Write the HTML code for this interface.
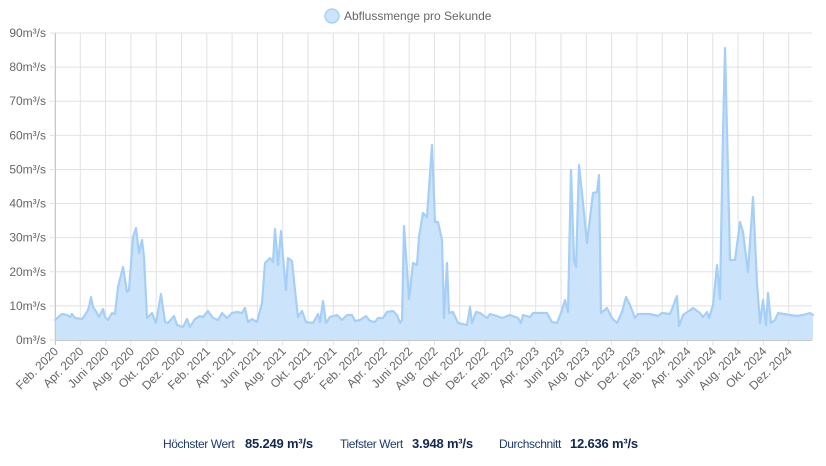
<!DOCTYPE html>
<html><head><meta charset="utf-8"><style>
body{margin:0;background:#fff;width:826px;height:466px;overflow:hidden;font-family:"Liberation Sans",sans-serif}
.f{position:absolute;top:437px;font-size:12px;color:#1d3b6e;white-space:nowrap;letter-spacing:-0.4px}
.v{position:absolute;top:436px;font-size:13px;font-weight:bold;color:#12284f;white-space:nowrap;letter-spacing:-0.2px}
</style></head><body>
<svg width="826" height="466" style="position:absolute;left:0;top:0" font-family="Liberation Sans, sans-serif">
<circle cx="332" cy="16" r="7" fill="#cce3fc" stroke="#a9d0f7" stroke-width="1.5"/>
<text x="344" y="20" font-size="12" fill="#666">Abflussmenge pro Sekunde</text>
<g id="grid" stroke="#e2e2e2" stroke-width="1"></g>
<g id="yl" font-size="12" fill="#666" text-anchor="end"></g>
<g id="xl" font-size="12" fill="#666" text-anchor="end"></g>
<path id="area" fill="#cce3fc" stroke="none"/>
<polyline id="line" fill="none" stroke="#a6cff7" stroke-width="2.2" stroke-linejoin="round" stroke-linecap="round"/>
<line x1="55" y1="340.5" x2="812" y2="340.5" stroke="#c8c8c8"/>
<line x1="55.5" y1="33" x2="55.5" y2="345" stroke="#c8c8c8"/>
</svg>
<div class="f" style="left:163px">Höchster Wert</div><div class="v" style="left:245px">85.249 m³/s</div>
<div class="f" style="left:340px">Tiefster Wert</div><div class="v" style="left:412px">3.948 m³/s</div>
<div class="f" style="left:499px">Durchschnitt</div><div class="v" style="left:570px">12.636 m³/s</div>
<script>
var ns="http://www.w3.org/2000/svg";
function el(t,a,p){var e=document.createElementNS(ns,t);for(var k in a)e.setAttribute(k,a[k]);document.getElementById(p).appendChild(e);return e;}
for(var i=0;i<=9;i++){var y=340-i*34.11;el('line',{x1:50,x2:812,y1:y,y2:y},'grid');var t=el('text',{x:46,y:y+4},'yl');t.textContent=(i*10)+'m³/s';}
var m=['Feb.','Apr.','Juni','Aug.','Okt.','Dez.'];
for(var i=0;i<30;i++){var x=55+i*25.3;el('line',{x1:x,x2:x,y1:33,y2:345},'grid');var t=el('text',{x:x+4,y:352,transform:'rotate(-45 '+(x+4)+' 352)'},'xl');t.textContent=m[i%6]+' '+(2020+Math.floor(i/6));}
var p="55,320 62,314 67,315 70,317 72,314 75,318 82,319 87,312 89,307 91,297 93,307 97,313 99,317 103,309 105,317 108,320 112,313 115,314 118,287 123,267 127,292 129,290 133,237 136,228 139,253 142,240 144,257 147,318 152,313 156,323 161,294 165,322 168,323 174,316 177,325 183,327 187,319 190,327 195,319 200,316 203,317 208,311 213,318 218,320 222,313 227,318 232,313 237,312 242,313 245,308 248,322 252,319 257,322 262,303 265,263 270,258 273,262 275,229 278,265 281,231 283,257 286,290 288,258 292,261 295,290 298,317 302,311 306,322 313,323 318,314 320,322 323,301 326,323 330,317 337,315 342,320 347,315 352,315 355,321 360,320 366,316 370,321 375,322 378,318 383,318 387,312 393,311 397,315 400,323 402,320 404,226 407,270 409,299 413,263 417,265 419,237 423,213 427,217 432,145 435,222 438,222 442,240 444,318 447,263 449,313 453,312 458,323 467,325 470,307 472,323 476,312 480,313 487,318 490,314 497,316 502,318 510,315 518,318 521,323 523,315 530,317 533,313 540,313 547,313 552,322 557,323 562,310 565,300 568,312 571,170 574,260 576,267 579,165 583,203 587,243 593,193 597,192 599,175 601,313 607,308 612,318 617,323 622,312 626,297 630,305 635,318 638,314 650,314 658,316 662,313 670,314 677,296 679,326 683,315 693,308 700,313 703,317 707,312 709,318 713,305 717,265 720,299 723,133 725,48 727,130 730,260 735,260 740,222 743,232 748,272 753,197 757,283 760,323 763,300 766,325 768,293 771,323 775,320 778,313 790,315 797,316 803,315 810,313 813,315";
document.getElementById('line').setAttribute('points',p);
document.getElementById('area').setAttribute('d','M55,340 L'+p.split(' ').join(' L')+' L813,340 Z');
</script>
</body></html>
